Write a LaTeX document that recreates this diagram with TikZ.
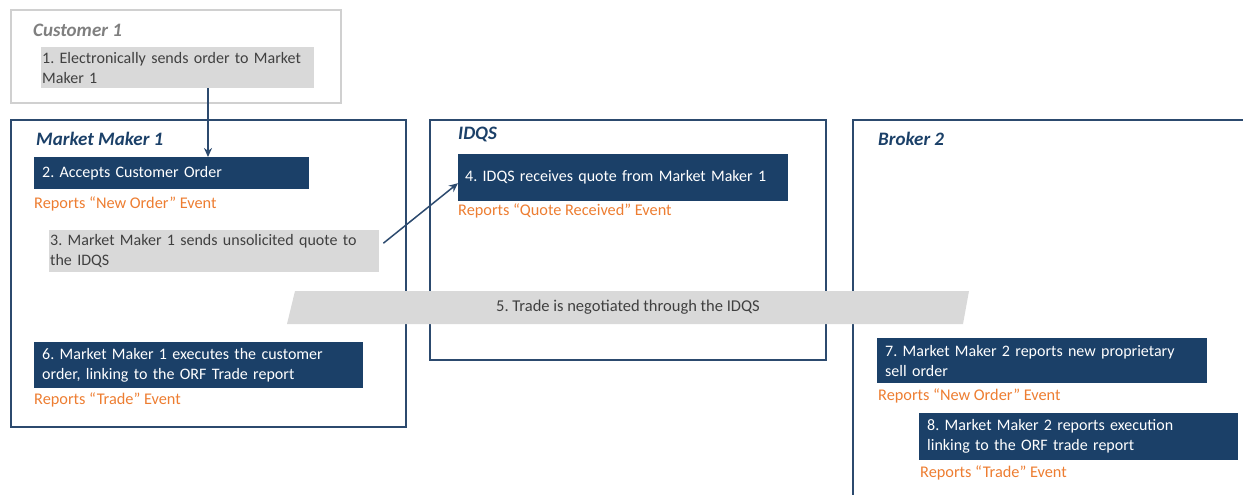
\documentclass[tikz,border=0pt]{standalone}
\usepackage{fontspec}
\setmainfont{Carlito}
\usetikzlibrary{arrows.meta,calc}
\definecolor{navy}{HTML}{1B4068}
\definecolor{frameblue}{HTML}{2C4A6E}
\definecolor{orng}{HTML}{ED7D31}
\definecolor{gbox}{HTML}{D9D9D9}
\definecolor{gtext}{HTML}{404040}
\definecolor{gframe}{HTML}{D0D0D0}
\definecolor{gtitle}{HTML}{7F7F7F}
\frenchspacing
\begin{document}
\begin{tikzpicture}[x=1pt,y=-1pt,
  container/.style={draw=frameblue,line width=1.8pt},
  navybox/.style={fill=navy,text=white,anchor=north west,align=left,inner ysep=0pt,
     font=\fontsize{16}{20}\selectfont},
  graybox/.style={fill=gbox,text=gtext,anchor=north west,align=left,inner ysep=0pt,
     font=\fontsize{16}{20}\selectfont},
  report/.style={text=orng,anchor=west,inner sep=0pt,font=\fontsize{16.3}{19}\selectfont},
  title/.style={anchor=west,inner sep=0pt,font=\fontsize{19}{22}\selectfont\bfseries\itshape},
  flow/.style={draw=frameblue,line width=1.8pt,-{Stealth[length=9pt,width=8pt]}}
]
\useasboundingbox (0,0) rectangle (1243,495);
\clip (0,0) rectangle (1243,495);
% containers
\draw[draw=gframe,line width=1.6pt] (11,10) rectangle (341,103);
\node[title,text=gtitle] (tc) at (33,30) {Customer 1};
\draw[container] (11,120) rectangle (406,427);
\node[title,text=navy] (tm) at (36,139) {Market Maker 1};
\draw[container] (430,120) rectangle (826,360);
\node[title,text=navy] (ti) at (458,134) {IDQS};
\draw[container] (1250,120) -- (853,120) -- (853,500);
\node[title,text=navy] (tb) at (878,139) {Broker 2};
% step boxes
\node[graybox,inner xsep=1pt,text width=271pt,minimum height=41pt] (b1) at (41,47)
  {1. Electronically sends order to Market\\Maker 1};
\node[navybox,inner xsep=8pt,text width=259pt,minimum height=32pt] (b2) at (34,157)
  {2. Accepts Customer Order};
\node[report] (r2) at (34,204) {Reports “New Order” Event};
\node[graybox,inner xsep=1pt,text width=328pt,minimum height=42pt] (b3) at (49,230)
  {3. Market Maker 1 sends unsolicited quote to\\the IDQS};
\node[navybox,inner xsep=7pt,text width=316pt,minimum height=47pt] (b4) at (458,154)
  {4. IDQS receives quote from Market Maker 1};
\node[report] (r4) at (458,211) {Reports “Quote Received” Event};
\node[navybox,inner xsep=8pt,text width=313pt,minimum height=46pt] (b6) at (34,342)
  {6. Market Maker 1 executes the customer\\order, linking to the ORF Trade report};
\node[report] (r6) at (34,400) {Reports “Trade” Event};
\node[navybox,inner xsep=8pt,text width=314pt,minimum height=45pt] (b7) at (877,338)
  {7. Market Maker 2 reports new proprietary\\sell order};
\node[report] (r7) at (878,396) {Reports “New Order” Event};
\node[navybox,inner xsep=8pt,text width=303pt,minimum height=47pt] (b8) at (919,413)
  {8. Market Maker 2 reports execution\\linking to the ORF trade report};
\node[report] (r8) at (920,473) {Reports “Trade” Event};
% band 5
\fill[gbox] (295,291) -- (969,291) -- (963,324) -- (287,324) -- cycle;
\node[text=gtext,inner sep=0pt,font=\fontsize{16.5}{19}\selectfont] (b5) at (628,307.5)
  {5. Trade is negotiated through the IDQS};
% connectors
\coordinate (ax) at (208,0);
\draw[flow] (ax |- b1.south) -- (ax |- b2.north);
\draw[flow,line width=1.5pt] ([xshift=4pt,yshift=8pt]b3.east) -- ([yshift=-5.5pt]b4.west);
\end{tikzpicture}
\end{document}
